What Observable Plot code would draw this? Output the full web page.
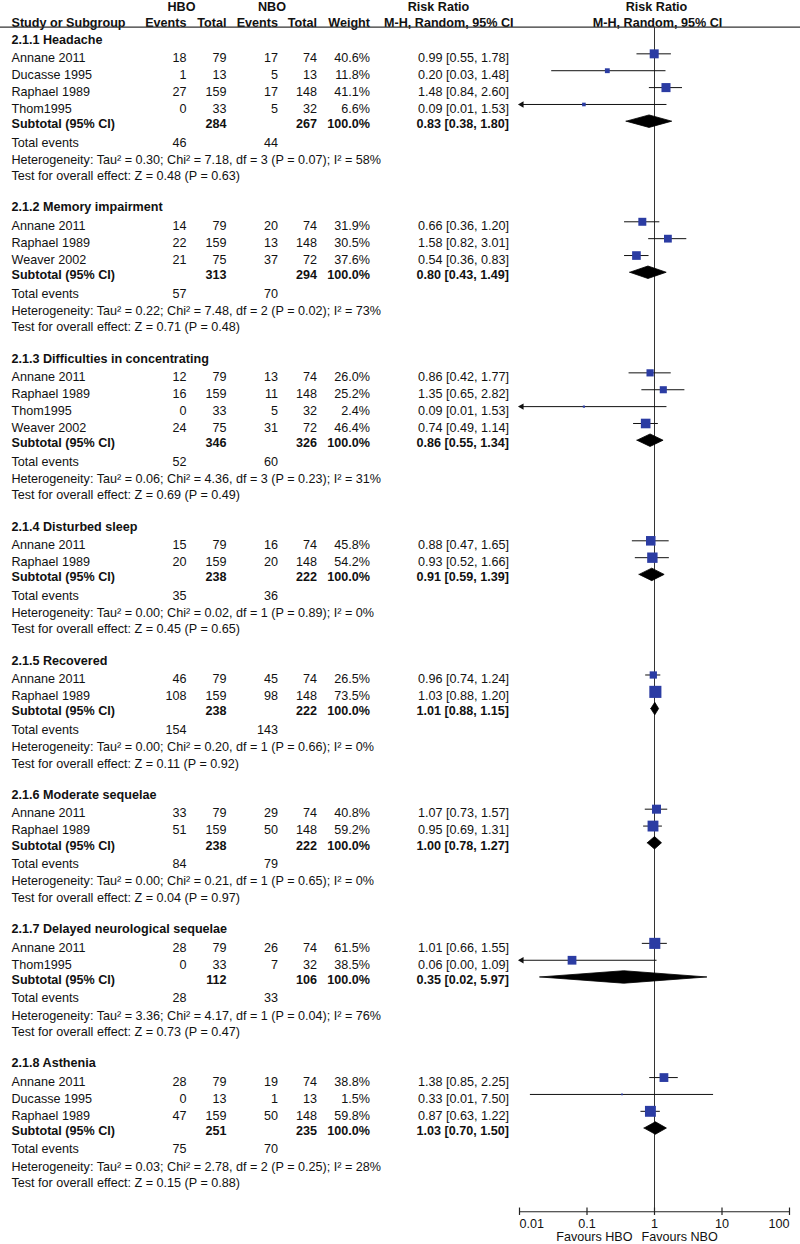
<!DOCTYPE html>
<html><head><meta charset="utf-8">
<script src="https://cdn.jsdelivr.net/npm/d3@7"></script>
<script src="https://cdn.jsdelivr.net/npm/@observablehq/plot@0.6"></script>
<style>body{margin:0;background:#fff} svg{display:block}</style>
</head><body><div id="chart"></div>
<script>
// ---------- DATA ----------
const subgroups = ["2.1.1 Headache", "2.1.2 Memory impairment", "2.1.3 Difficulties in concentrating", "2.1.4 Disturbed sleep", "2.1.5 Recovered", "2.1.6 Moderate sequelae", "2.1.7 Delayed neurological sequelae", "2.1.8 Asthenia"];

const studyGroup = [0,0,0,0, 1,1,1, 2,2,2,2, 3,3, 4,4, 5,5, 6,6, 7,7,7];
const studyName = ["Annane 2011","Ducasse 1995","Raphael 1989","Thom1995",
  "Annane 2011","Raphael 1989","Weaver 2002",
  "Annane 2011","Raphael 1989","Thom1995","Weaver 2002",
  "Annane 2011","Raphael 1989",
  "Annane 2011","Raphael 1989",
  "Annane 2011","Raphael 1989",
  "Annane 2011","Thom1995",
  "Annane 2011","Ducasse 1995","Raphael 1989"];
const hboEvents = [18,1,27,0, 14,22,21, 12,16,0,24, 15,20, 46,108, 33,51, 28,0, 28,0,47];
const hboTotal  = [79,13,159,33, 79,159,75, 79,159,33,75, 79,159, 79,159, 79,159, 79,33, 79,13,159];
const nboEvents = [17,5,17,5, 20,13,37, 13,11,5,31, 16,20, 45,98, 29,50, 26,7, 19,1,50];
const nboTotal  = [74,13,148,32, 74,148,72, 74,148,32,72, 74,148, 74,148, 74,148, 74,32, 74,13,148];
const weight    = [40.6,11.8,41.1,6.6, 31.9,30.5,37.6, 26.0,25.2,2.4,46.4, 45.8,54.2, 26.5,73.5, 40.8,59.2, 61.5,38.5, 38.8,1.5,59.8];
const riskRatio = [0.99,0.20,1.48,0.09, 0.66,1.58,0.54, 0.86,1.35,0.09,0.74, 0.88,0.93, 0.96,1.03, 1.07,0.95, 1.01,0.06, 1.38,0.33,0.87];
const ciLow     = [0.55,0.03,0.84,0.006, 0.36,0.82,0.36, 0.42,0.65,0.006,0.49, 0.47,0.52, 0.74,0.88, 0.73,0.69, 0.66,0.003, 0.85,0.0145,0.63];
const ciHigh    = [1.78,1.48,2.60,1.53, 1.20,3.01,0.83, 1.77,2.82,1.53,1.14, 1.65,1.66, 1.24,1.20, 1.57,1.31, 1.55,1.09, 2.25,7.50,1.22];

const subRR     = [0.83,0.80,0.86,0.91,1.01,1.00,0.35,1.03];
const subLow    = [0.38,0.43,0.55,0.59,0.88,0.78,0.02,0.70];
const subHigh   = [1.80,1.49,1.34,1.39,1.15,1.27,5.97,1.50];
const subHboTotal = [284,313,346,238,238,238,112,251];
const subNboTotal = [267,294,326,222,222,222,106,235];
const totHboEvents = [46,57,52,35,154,84,28,75];
const totNboEvents = [44,70,60,36,143,79,33,70];
const tau2 = ["0.30","0.22","0.06","0.00","0.00","0.00","3.36","0.03"];
const chi2 = ["7.18","7.48","4.36","0.02","0.20","0.21","4.17","2.78"];
const hetDf = [3,2,3,1,1,1,1,2];
const hetP = ["0.07","0.02","0.23","0.89","0.66","0.65","0.04","0.25"];
const iSq = [58,73,31,0,0,0,76,28];
const zVal = ["0.48","0.71","0.69","0.45","0.11","0.04","0.73","0.15"];
const zP = ["0.63","0.48","0.49","0.65","0.92","0.97","0.47","0.88"];

const axisTicks = [0.01, 0.1, 1, 10, 100];
const axisTickLabels = ["0.01", "0.1", "1", "10", "100"];

// ---------- LAYOUT (row units) ----------
const G = {titleToStudy:1.1, study:1, studyToSub:0.9, subToTotal:1.1, totalToHet:1.03, hetToTest:0.97, testToTitle:1.85};
const f2 = d3.format(".2f"), f1 = d3.format(".1f");
const titleRows=[], studyRows=[], subRows=[], totRows=[], hetRows=[], testRows=[];
let cur = 0;
subgroups.forEach((name, g) => {
  titleRows.push({y: cur, text: name});
  let y = cur + G.titleToStudy;
  studyName.forEach((s, i) => {
    if (studyGroup[i] !== g) return;
    studyRows.push({y, name: s, he: hboEvents[i], ht: hboTotal[i], ne: nboEvents[i], nt: nboTotal[i],
      w: weight[i], rr: riskRatio[i], lo: ciLow[i], hi: ciHigh[i],
      label: `${f2(riskRatio[i])} [${f2(ciLow[i])}, ${f2(ciHigh[i])}]`});
    y += G.study;
  });
  const ys = y - G.study + G.studyToSub;
  subRows.push({y: ys, ht: subHboTotal[g], nt: subNboTotal[g], rr: subRR[g], lo: subLow[g], hi: subHigh[g],
    label: `${f2(subRR[g])} [${f2(subLow[g])}, ${f2(subHigh[g])}]`});
  const yt = ys + G.subToTotal;
  totRows.push({y: yt, he: totHboEvents[g], ne: totNboEvents[g]});
  const yh = yt + G.totalToHet;
  hetRows.push({y: yh, text: `Heterogeneity: Tau² = ${tau2[g]}; Chi² = ${chi2[g]}, df = ${hetDf[g]} (P = ${hetP[g]}); I² = ${iSq[g]}%`});
  const yz = yh + G.hetToTest;
  testRows.push({y: yz, text: `Test for overall effect: Z = ${zVal[g]} (P = ${zP[g]})`});
  cur = yz + G.testToTitle;
});
const yHead1 = -1.955, yHead2 = -0.966, yHeadLine = -0.729;
const yAxis = 69.45, yTickLab = 70.2, yFav = 70.92;
const markOffset = -0.25, diamondOffset = -0.16, diamondHalf = 0.37;

const diamonds = subRows.flatMap((d, g) => {
  const yc = d.y + diamondOffset;
  return [
    {g, x: d.lo, y: yc}, {g, x: d.rr, y: yc - diamondHalf}, {g, x: d.hi, y: yc},
    {g, x: d.rr, y: yc + diamondHalf}, {g, x: d.lo, y: yc}
  ];
});

// column anchors (px from left edge)
const C = {name: 11, he: 186, ht: 226, ne: 277.5, nt: 316.5, w: 369.5, rr: 508.5};
const font = "Liberation Sans, Arial, Helvetica, sans-serif";
const FS = 12.6;
const T = {frameAnchor: "left", fontSize: FS, fill: "#111", lineAnchor: "middle"};
const A = {fontSize: FS, fill: "#111"};
const colText = (data, key, dx, extra = {}) =>
  Plot.text(data, {...T, y: "y", text: key, dx, textAnchor: "end", ...extra});

const blue = "#2b3ca3";

const chart = Plot.plot({
  width: 800, height: 1244,
  marginTop: 0, marginBottom: 0, marginLeft: 0, marginRight: 0,
  style: {fontFamily: font, fontSize: "12px", background: "#fff", color: "#111"},
  x: {type: "log", domain: [0.01, 100], range: [519, 789], axis: null},
  y: {domain: [-2.31, 71.39], range: [0, 1244], axis: null},
  r: {type: "sqrt", domain: [0, 100], range: [0, 7.96]},
  marks: [
    // header
    Plot.text(["HBO"], {...T, y: yHead1, dx: 181, textAnchor: "middle", fontWeight: "bold"}),
    Plot.text(["NBO"], {...T, y: yHead1, dx: 271.5, textAnchor: "middle", fontWeight: "bold"}),
    Plot.text(["Risk Ratio"], {...T, y: yHead1, dx: 438, textAnchor: "middle", fontWeight: "bold"}),
    Plot.text(["Risk Ratio"], {...A, y: yHead1, x: 1, dx: 2, textAnchor: "middle", fontWeight: "bold"}),
    Plot.text(["Study or Subgroup"], {...T, y: yHead2, dx: C.name, textAnchor: "start", fontWeight: "bold"}),
    Plot.text(["Events"], {...T, y: yHead2, dx: C.he, textAnchor: "end", fontWeight: "bold"}),
    Plot.text(["Total"], {...T, y: yHead2, dx: C.ht, textAnchor: "end", fontWeight: "bold"}),
    Plot.text(["Events"], {...T, y: yHead2, dx: C.ne, textAnchor: "end", fontWeight: "bold"}),
    Plot.text(["Total"], {...T, y: yHead2, dx: C.nt, textAnchor: "end", fontWeight: "bold"}),
    Plot.text(["Weight"], {...T, y: yHead2, dx: C.w, textAnchor: "end", fontWeight: "bold"}),
    Plot.text(["M-H, Random, 95% CI"], {...T, y: yHead2, dx: 513, textAnchor: "end", fontWeight: "bold"}),
    Plot.text(["M-H, Random, 95% CI"], {...A, y: yHead2, x: 1, dx: 3, textAnchor: "middle", fontWeight: "bold"}),
    Plot.ruleY([yHeadLine], {stroke: "#333", strokeWidth: 1.3}),

    // null line
    Plot.ruleX([1], {y1: yHeadLine, y2: yAxis, stroke: "#333", strokeWidth: 1}),

    // subgroup titles and summary lines
    Plot.text(titleRows, {...T, y: "y", text: "text", dx: C.name, textAnchor: "start", fontWeight: "bold"}),
    Plot.text(studyRows, {...T, y: "y", text: "name", dx: C.name, textAnchor: "start"}),
    colText(studyRows, "he", C.he), colText(studyRows, "ht", C.ht),
    colText(studyRows, "ne", C.ne), colText(studyRows, "nt", C.nt),
    colText(studyRows, d => f1(d.w) + "%", C.w), colText(studyRows, "label", C.rr),

    Plot.text(subRows, {...T, y: "y", text: () => "Subtotal (95% CI)", dx: C.name, textAnchor: "start", fontWeight: "bold"}),
    colText(subRows, "ht", C.ht, {fontWeight: "bold"}), colText(subRows, "nt", C.nt, {fontWeight: "bold"}),
    colText(subRows, () => "100.0%", C.w, {fontWeight: "bold"}), colText(subRows, "label", C.rr, {fontWeight: "bold"}),

    Plot.text(totRows, {...T, y: "y", text: () => "Total events", dx: C.name, textAnchor: "start"}),
    colText(totRows, "he", C.he), colText(totRows, "ne", C.ne),
    Plot.text(hetRows, {...T, y: "y", text: "text", dx: C.name, textAnchor: "start"}),
    Plot.text(testRows, {...T, y: "y", text: "text", dx: C.name, textAnchor: "start"}),

    // forest: CIs, squares, arrows, diamonds
    Plot.ruleY(studyRows, {y: d => d.y + markOffset, x1: d => Math.max(d.lo, 0.01), x2: d => Math.min(d.hi, 100), stroke: "#111", strokeWidth: 1}),
    Plot.dot(studyRows.filter(d => d.lo < 0.01), {x: () => 0.01, y: d => d.y + markOffset, symbol: "triangle", rotate: -90, r: 2.4, dx: 2.2, fill: "#111", stroke: "none"}),
    Plot.dot(studyRows, {x: "rr", y: d => d.y + markOffset, r: "w", symbol: "square", fill: blue, stroke: "none"}),
    Plot.line(diamonds, {x: "x", y: "y", z: "g", fill: "#000", stroke: "#000", strokeWidth: 0.8, curve: "linear"}),

    // axis
    Plot.ruleY([yAxis], {x1: 0.01, x2: 100, stroke: "#222", strokeWidth: 1.2}),
    Plot.ruleX(axisTicks, {x: d => d, y1: yAxis - 0.22, y2: yAxis + 0.22, stroke: "#222", strokeWidth: 1.2}),
    Plot.text(axisTicks.slice(0, 1), {...A, x: d => d, y: yTickLab, text: () => axisTickLabels[0], textAnchor: "start"}),
    Plot.text(axisTicks.slice(1, 4), {...A, x: d => d, y: yTickLab, text: (d, i) => axisTickLabels[i + 1], textAnchor: "middle"}),
    Plot.text(axisTicks.slice(4), {...A, x: d => d, y: yTickLab, text: () => axisTickLabels[4], textAnchor: "end"}),
    Plot.text(["Favours HBO"], {...A, x: 1, y: yFav, dx: -22, textAnchor: "end"}),
    Plot.text(["Favours NBO"], {...A, x: 1, y: yFav, dx: -13, textAnchor: "start"})
  ]
});
document.getElementById("chart").appendChild(chart);
</script></body></html>
